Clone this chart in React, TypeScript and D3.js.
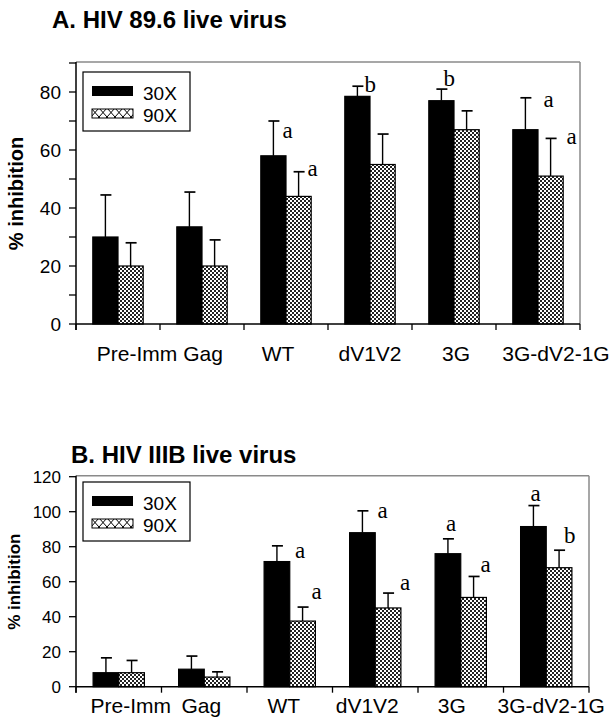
import * as d3 from 'd3';

// categories and series
const categories = ['Pre-Imm', 'Gag', 'WT', 'dV1V2', '3G', '3G-dV2-1G'];
const seriesNames = ['30X', '90X'];

// panel A: HIV 89.6 (mean and top of error bar)
const a30 = [30, 33.5, 58, 78.5, 77, 67];
const a30Err = [44.5, 45.5, 70, 82, 81, 78];
const a90 = [20, 20, 44, 55, 67, 51];
const a90Err = [28, 29, 52.5, 65.5, 73.5, 64];
const aTicks = [0, 10, 20, 30, 40, 50, 60, 70, 80, 90];
const aLetters = [
  { cat: 2, s: 0, t: 'a' },
  { cat: 2, s: 1, t: 'a' },
  { cat: 3, s: 0, t: 'b' },
  { cat: 4, s: 0, t: 'b' },
  { cat: 5, s: 0, t: 'a' },
  { cat: 5, s: 1, t: 'a' },
];

// panel B: HIV IIIB
const b30 = [8, 10, 71.5, 88, 76, 91.5];
const b30Err = [16.5, 17.5, 80.5, 100.5, 84.5, 103.5];
const b90 = [8, 5.5, 37.5, 45, 51, 68];
const b90Err = [15, 8.5, 45.5, 53.5, 63, 78];
const bTicks = [0, 20, 40, 60, 80, 100, 120];
const bLetters = [
  { cat: 2, s: 0, t: 'a' },
  { cat: 2, s: 1, t: 'a' },
  { cat: 3, s: 0, t: 'a' },
  { cat: 3, s: 1, t: 'a' },
  { cat: 4, s: 0, t: 'a' },
  { cat: 4, s: 1, t: 'a' },
  { cat: 5, s: 0, t: 'a' },
  { cat: 5, s: 1, t: 'b' },
];

// hand placement of the letters and category labels (pixels)
const aLetterOffsets = [[9, 17], [9, 4], [7, 6], [2, -3], [18, 9], [16, 6]];
const bLetterOffsets = [[18, 12], [9, -8], [15, 7], [12, -3], [-2, -8], [7, -4], [-3, -5], [5, -7]];
const aLabelShift = [19, 1, -8, 0, 2, 18];
const bLabelShift = [12, -3, -6, -8, -9, 5];

const SANS = '"Liberation Sans", Arial, Helvetica, sans-serif';
const SERIF = '"Liberation Serif", "Times New Roman", serif';

interface PanelProps {
  id: string;
  title: string;
  titleX: number;
  titleY: number;
  x0: number;
  x1: number;
  yTop: number;
  yBottom: number;
  max: number;
  ticks: number[];
  labelEvery: number;
  tickFont: number;
  yTitleX: number;
  yTitleSize: number;
  legendY: number;
  xLabelY: number;
  values: number[][];
  errs: number[][];
  letters: { cat: number; s: number; t: string }[];
  letterOffsets: number[][];
  labelShift: number[];
}

function Panel(p: PanelProps) {
  const x = d3.scaleBand<string>().domain(categories).range([p.x0, p.x1]).padding(0);
  const xs = d3
    .scaleBand<string>()
    .domain(seriesNames)
    .range([x.bandwidth() * 0.2, x.bandwidth() * 0.8])
    .padding(0);
  const y = d3.scaleLinear().domain([0, p.max]).range([p.yBottom, p.yTop]);
  const bw = xs.bandwidth();
  const boundaries = d3.range(categories.length + 1).map(i => p.x0 + i * x.step());

  return (
    <g>
      <text x={p.titleX} y={p.titleY} fontFamily={SANS} fontWeight="bold" fontSize={24} fill="#000">
        {p.title}
      </text>

      {/* frame */}
      <line x1={p.x0} x2={p.x1} y1={p.yTop - 1} y2={p.yTop - 1} stroke="#8a8a8a" strokeWidth={1.5} />
      <line x1={p.x1} x2={p.x1} y1={p.yTop - 1} y2={p.yBottom} stroke="#8a8a8a" strokeWidth={1.5} />

      {/* bars */}
      {p.values.map((vals, s) =>
        vals.map((v, i) => {
          const bx = (x(categories[i]) as number) + (xs(seriesNames[s]) as number);
          const cx = bx + bw / 2;
          const ey = y(p.errs[s][i]);
          return (
            <g key={p.id + s + '-' + i}>
              <line x1={cx} x2={cx} y1={y(v)} y2={ey} stroke="#000" strokeWidth={1.4} />
              <line x1={cx - 5} x2={cx + 6} y1={ey} y2={ey} stroke="#000" strokeWidth={1.7} />
              <rect
                x={bx}
                y={y(v)}
                width={bw}
                height={y(0) - y(v)}
                fill={s === 0 ? '#000' : 'url(#dots)'}
                stroke="#000"
                strokeWidth={1.2}
              />
            </g>
          );
        })
      )}

      {/* significance letters */}
      {p.letters.map((l, k) => {
        const bx = (x(categories[l.cat]) as number) + (xs(seriesNames[l.s]) as number) + bw / 2;
        const ty = y(p.errs[l.s][l.cat]);
        return (
          <text
            key={'l' + k}
            x={bx + p.letterOffsets[k][0]}
            y={ty + p.letterOffsets[k][1]}
            fontFamily={SERIF}
            fontSize={23}
            fill="#000"
          >
            {l.t}
          </text>
        );
      })}

      {/* y axis */}
      <line x1={p.x0} x2={p.x0} y1={p.yTop - 1} y2={p.yBottom + 6} stroke="#000" strokeWidth={1.5} />
      {p.ticks.map(t => (
        <g key={'t' + t}>
          <line x1={p.x0 - 7} x2={p.x0} y1={y(t)} y2={y(t)} stroke="#000" strokeWidth={1.3} />
          {t % p.labelEvery === 0 && (
            <text
              x={p.x0 - 15}
              y={y(t)}
              dy="0.36em"
              textAnchor="end"
              fontFamily={SANS}
              fontSize={p.tickFont}
              fill="#000"
            >
              {t}
            </text>
          )}
        </g>
      ))}
      <text
        transform={`translate(${p.yTitleX},${(p.yTop + p.yBottom) / 2}) rotate(-90)`}
        textAnchor="middle"
        fontFamily={SANS}
        fontWeight="bold"
        fontSize={p.yTitleSize}
        fill="#000"
      >
        % inhibition
      </text>

      {/* x axis */}
      <line x1={p.x0} x2={p.x1} y1={p.yBottom} y2={p.yBottom} stroke="#000" strokeWidth={1.5} />
      {boundaries.map((bx, i) => (
        <line key={'xb' + i} x1={bx} x2={bx} y1={p.yBottom} y2={p.yBottom + 6} stroke="#000" strokeWidth={1.3} />
      ))}
      {categories.map((c, i) => (
        <text
          key={'xl' + c}
          x={(x(c) as number) + x.bandwidth() / 2 + p.labelShift[i]}
          y={p.xLabelY}
          textAnchor="middle"
          fontFamily={SANS}
          fontSize={21}
          fill="#000"
        >
          {c}
        </text>
      ))}

      {/* legend */}
      <g transform={`translate(${p.x0 + 7},${p.legendY})`}>
        <rect x={0} y={0} width={107} height={59} fill="#fff" stroke="#000" strokeWidth={1.2} />
        <rect x={9} y={14} width={41} height={10} fill="#000" />
        <rect x={9} y={37} width={41} height={9} fill="url(#cross)" stroke="#000" strokeWidth={1} />
        <text x={60} y={28} fontFamily={SANS} fontSize={19} fill="#000">
          {seriesNames[0]}
        </text>
        <text x={60} y={50} fontFamily={SANS} fontSize={19} fill="#000">
          {seriesNames[1]}
        </text>
      </g>
    </g>
  );
}

export default function App() {
  return (
    <div style={{ position: 'absolute', left: 0, top: 0 }}>
      <svg width={613} height={726} style={{ display: 'block', background: '#fff' }}>
        <defs>
          <pattern id="dots" patternUnits="userSpaceOnUse" width={4} height={4}>
            <rect width={4} height={4} fill="#fff" />
            <rect x={0} y={0} width={2} height={2} fill="#222" />
            <rect x={2} y={2} width={2} height={2} fill="#222" />
          </pattern>
          <pattern id="cross" patternUnits="userSpaceOnUse" width={8} height={9}>
            <rect width={8} height={9} fill="#fff" />
            <path d="M0,0 L8,9 M0,9 L8,0" stroke="#000" strokeWidth={1} />
          </pattern>
        </defs>
        <Panel
          id="a"
          title="A. HIV 89.6 live virus"
          titleX={52}
          titleY={28}
          x0={76}
          x1={580}
          yTop={63}
          yBottom={324}
          max={90}
          ticks={aTicks}
          labelEvery={20}
          tickFont={19}
          yTitleX={23}
          yTitleSize={20}
          legendY={72}
          xLabelY={361}
          values={[a30, a90]}
          errs={[a30Err, a90Err]}
          letters={aLetters}
          letterOffsets={aLetterOffsets}
          labelShift={aLabelShift}
        />
        <Panel
          id="b"
          title="B. HIV IIIB live virus"
          titleX={71}
          titleY={463}
          x0={76}
          x1={589}
          yTop={476.7}
          yBottom={686.7}
          max={120}
          ticks={bTicks}
          labelEvery={20}
          tickFont={17}
          yTitleX={20}
          yTitleSize={17}
          legendY={482}
          xLabelY={713}
          values={[b30, b90]}
          errs={[b30Err, b90Err]}
          letters={bLetters}
          letterOffsets={bLetterOffsets}
          labelShift={bLabelShift}
        />
      </svg>
    </div>
  );
}
